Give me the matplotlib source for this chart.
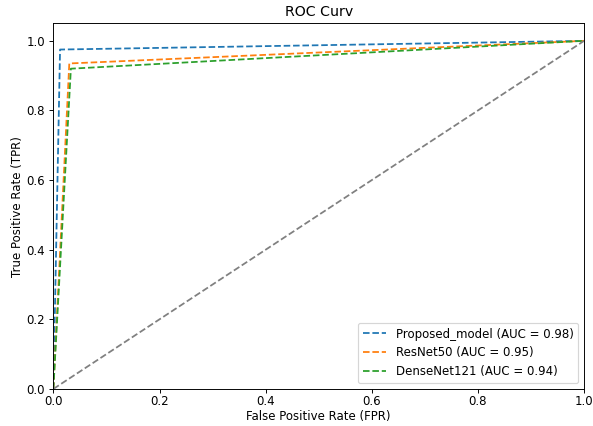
import numpy as np
import matplotlib
matplotlib.use('Agg')
import matplotlib.pyplot as plt

# roc points
model_names = ['Proposed_model', 'ResNet50', 'DenseNet121']
auc_values = [0.98, 0.95, 0.94]
fpr_points = [[0.0, 0.0126, 1.0],
              [0.0, 0.030, 1.0],
              [0.0, 0.033, 1.0]]
tpr_points = [[0.0, 0.975, 1.0],
              [0.0, 0.935, 1.0],
              [0.0, 0.92, 1.0]]
line_colors = ['#1f77b4', '#ff7f0e', '#2ca02c']

DPI = 85
fig = plt.figure(figsize=(593 / DPI, 426 / DPI), dpi=DPI)
ax = fig.add_subplot(111)
fig.subplots_adjust(left=0.09, right=0.985, top=0.945, bottom=0.087)

for name, auc, fpr, tpr, c in zip(model_names, auc_values, fpr_points, tpr_points, line_colors):
    ax.plot(fpr, tpr, linestyle='--', color=c, label=f'{name} (AUC = {auc:.2f})')

ax.plot([0, 1], [0, 1], color='gray', linestyle='--')
ax.set_xlim(0.0, 1.0)
ax.set_ylim(0.0, 1.05)
ax.tick_params(axis='x', pad=2)
ax.set_xlabel('False Positive Rate (FPR)', labelpad=1)
ax.set_ylabel('True Positive Rate (TPR)', labelpad=2)
ax.set_title('ROC Curv')
ax.legend(loc='lower right')

fig.savefig('out.png', dpi=DPI)
